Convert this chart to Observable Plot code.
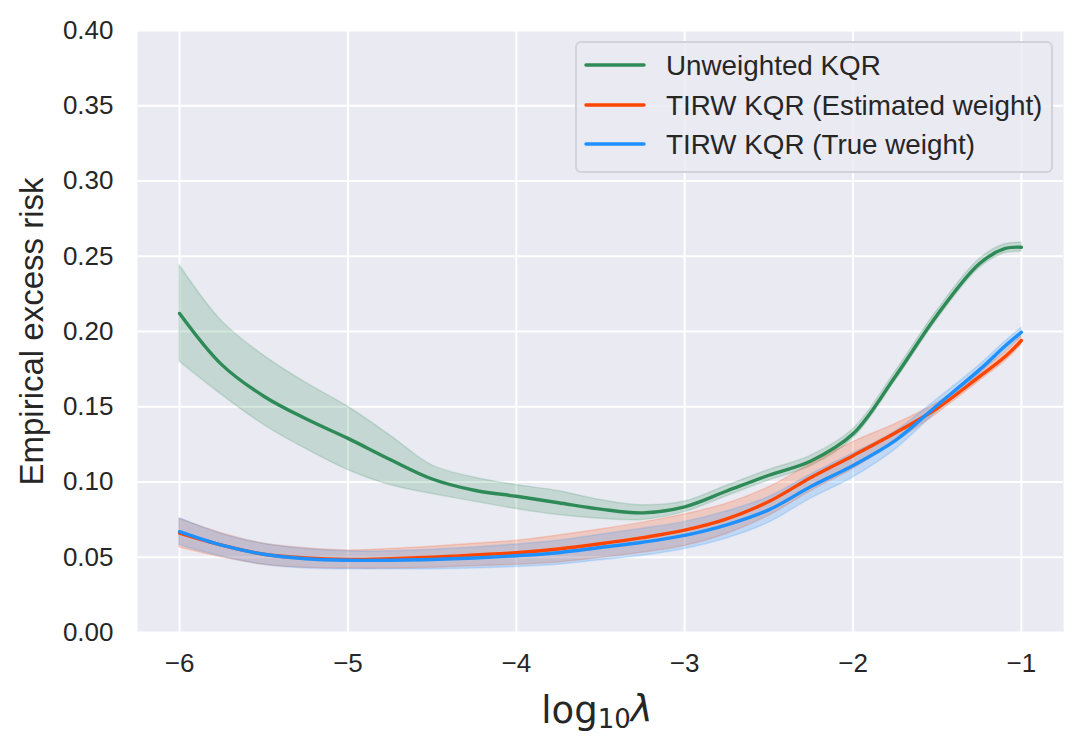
<!DOCTYPE html>
<html>
<head>
<meta charset="utf-8">
<script src="https://cdn.jsdelivr.net/npm/d3@7"></script>
<script src="https://cdn.jsdelivr.net/npm/@observablehq/plot@0.6"></script>
<style>
  html, body { margin: 0; padding: 0; background: #ffffff; }
  #chart svg { display: block; }
</style>
</head>
<body>
<div id="chart"></div>
<script>
// ---- Data ----
const xs = [-6, -5.75, -5.5, -5.25, -5, -4.75, -4.5, -4.25, -4, -3.75, -3.5, -3.25, -3, -2.75, -2.5, -2.25, -2, -1.75, -1.5, -1.25, -1.1, -1];

const greenMean = [0.212, 0.178, 0.157, 0.142, 0.129, 0.115, 0.102, 0.0945, 0.0905, 0.0862, 0.082, 0.0795, 0.0835, 0.094, 0.1045, 0.114, 0.132, 0.170, 0.211, 0.245, 0.255, 0.256];
const greenLo   = [0.180, 0.158, 0.138, 0.122, 0.108, 0.098, 0.092, 0.087, 0.082, 0.078, 0.0755, 0.0748, 0.080, 0.0905, 0.101, 0.1105, 0.129, 0.167, 0.208, 0.242, 0.252, 0.253];
const greenHi   = [0.244, 0.207, 0.184, 0.166, 0.150, 0.131, 0.111, 0.103, 0.098, 0.094, 0.088, 0.0845, 0.087, 0.0975, 0.108, 0.1175, 0.135, 0.173, 0.214, 0.248, 0.258, 0.259];

const orangeMean = [0.066, 0.058, 0.052, 0.0495, 0.0485, 0.049, 0.050, 0.0515, 0.053, 0.0555, 0.059, 0.063, 0.068, 0.0755, 0.087, 0.103, 0.1175, 0.1325, 0.149, 0.170, 0.183, 0.194];
const orangeLo   = [0.0565, 0.050, 0.045, 0.043, 0.0425, 0.0425, 0.043, 0.044, 0.045, 0.0465, 0.0495, 0.053, 0.0575, 0.0655, 0.0775, 0.094, 0.1085, 0.1265, 0.1455, 0.167, 0.180, 0.191];
const orangeHi   = [0.0755, 0.066, 0.059, 0.056, 0.0545, 0.0555, 0.057, 0.059, 0.061, 0.0645, 0.0685, 0.073, 0.0785, 0.0855, 0.0965, 0.112, 0.1265, 0.1385, 0.1525, 0.173, 0.186, 0.197];

const blueMean = [0.067, 0.058, 0.052, 0.049, 0.048, 0.048, 0.0485, 0.0495, 0.051, 0.053, 0.0565, 0.060, 0.0645, 0.0715, 0.0815, 0.097, 0.111, 0.1275, 0.151, 0.1745, 0.190, 0.1995];
const blueLo   = [0.058, 0.0505, 0.045, 0.0425, 0.042, 0.042, 0.042, 0.0425, 0.0435, 0.045, 0.048, 0.051, 0.0555, 0.0625, 0.073, 0.089, 0.103, 0.1215, 0.147, 0.1715, 0.187, 0.1965];
const blueHi   = [0.076, 0.0655, 0.059, 0.0555, 0.054, 0.054, 0.055, 0.0565, 0.0585, 0.061, 0.065, 0.069, 0.0735, 0.0805, 0.090, 0.105, 0.119, 0.1335, 0.155, 0.1775, 0.193, 0.2025];

const seriesNames = ["Unweighted KQR", "TIRW KQR (Estimated weight)", "TIRW KQR (True weight)"];
const seriesColors = ["#2e8b57", "#ff4500", "#1e90ff"];

const xTicks = [-6, -5, -4, -3, -2, -1];
const yTicks = [0, 0.05, 0.10, 0.15, 0.20, 0.25, 0.30, 0.35, 0.40];

// ---- Build tidy tables ----
const seriesData = [
  {mean: greenMean, lo: greenLo, hi: greenHi},
  {mean: orangeMean, lo: orangeLo, hi: orangeHi},
  {mean: blueMean, lo: blueLo, hi: blueHi}
];
const tables = seriesData.map((s, k) =>
  xs.map((x, i) => ({x, mean: s.mean[i], lo: s.lo[i], hi: s.hi[i], name: seriesNames[k], color: seriesColors[k]}))
);

const W = 1085, H = 754;
const marks = [
  Plot.frame({fill: "#eaeaf2", stroke: null}),
  Plot.gridX(xTicks, {stroke: "#ffffff", strokeOpacity: 1, strokeWidth: 2}),
  Plot.gridY(yTicks, {stroke: "#ffffff", strokeOpacity: 1, strokeWidth: 2}),
];
// bands first (matplotlib collections sit below lines)
tables.forEach((t, k) => {
  marks.push(Plot.areaY(t, {x: "x", y1: "lo", y2: "hi", fill: seriesColors[k], fillOpacity: 0.2,
    stroke: seriesColors[k], strokeOpacity: 0.18, strokeWidth: 1.5, curve: "catmull-rom"}));
});
tables.forEach((t, k) => {
  marks.push(Plot.lineY(t, {x: "x", y: "mean", stroke: seriesColors[k], strokeWidth: 3.4, curve: "catmull-rom"}));
});

const chart = Plot.plot({
  width: W,
  height: H,
  marginLeft: 137,
  marginRight: 22,
  marginTop: 30,
  marginBottom: 122,
  style: {fontFamily: "'Liberation Sans', Arial, sans-serif", fontSize: "26px", color: "#262626", background: "#ffffff"},
  x: {domain: [-6.25, -0.75], ticks: xTicks, tickFormat: d3.format("d"), tickSize: 0, tickPadding: 21, label: null},
  y: {domain: [0, 0.4], ticks: yTicks, tickFormat: d3.format(".2f"), tickSize: 0, tickPadding: 24, label: null},
  marks: [
    ...marks,
    Plot.text(["Empirical excess risk"], {frameAnchor: "left", text: d => d, rotate: -90, dx: -105,
      fontSize: 33, fill: "#262626", textAnchor: "middle", lineAnchor: "middle"})
  ]
});

document.getElementById("chart").appendChild(chart);

// ---- X label with subscript and legend ----
const svg = d3.select(chart);
const xl = svg.append("text")
  .attr("x", 597).attr("y", 723)
  .attr("text-anchor", "middle")
  .attr("fill", "#262626")
  .style("font-family", "'DejaVu Sans', sans-serif")
  .style("font-size", "37px");
xl.append("tspan").text("log");
xl.append("tspan").attr("dy", "0.2em").style("font-size", "26px").text("10");
xl.append("tspan").attr("dy", "-0.2em").style("font-style", "italic").text("λ");

const lg = svg.append("g").attr("text-anchor", "start");
lg.append("rect")
  .attr("x", 576).attr("y", 42).attr("width", 476).attr("height", 130).attr("rx", 5)
  .attr("fill", "#eaeaf2").attr("fill-opacity", 0.8)
  .attr("stroke", "#d2d2d8").attr("stroke-width", 2);
const rowsY = [65, 105, 144];
seriesNames.forEach((name, k) => {
  lg.append("line")
    .attr("x1", 586).attr("x2", 644).attr("y1", rowsY[k]).attr("y2", rowsY[k])
    .attr("stroke", seriesColors[k]).attr("stroke-width", 3.4).attr("stroke-linecap", "round");
  lg.append("text")
    .attr("x", 666).attr("y", rowsY[k]).attr("dy", "0.35em")
    .attr("text-anchor", "start")
    .attr("fill", "#262626")
    .style("font-family", "'Liberation Sans', Arial, sans-serif")
    .style("font-size", "27.8px")
    .text(name);
});
</script>
</body>
</html>
